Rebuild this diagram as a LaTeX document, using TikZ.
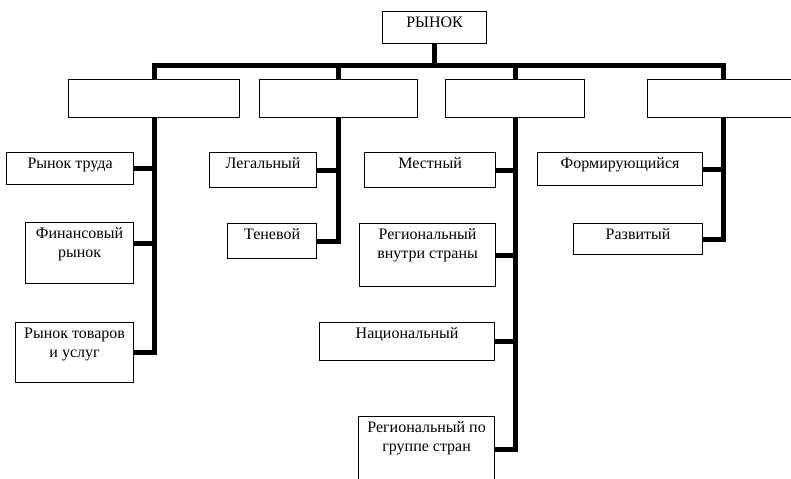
\documentclass[tikz,border=0pt]{standalone}
\usepackage{fontspec}
\setmainfont{Liberation Serif}
\newfontfamily\boxfont{Liberation Serif}
\usepackage{tikz}
\usetikzlibrary{arrows,shapes}
\newdimen\pxu
\pxu=0.75pt
% box text: width, height (px), text on top
\newcommand{\boxtext}[3]{\parbox[t][#2\pxu][t]{#1\pxu}{\centering\boxfont\rule{0pt}{12pt}#3}}

\begin{document}
\begin{tikzpicture}[x=0.75pt,y=-0.75pt,
  bx/.style={draw=black,line width=0.9pt,fill=white,anchor=north west,inner sep=0pt,
    font=\boxfont\fontsize{12}{14}\selectfont},
  conn/.style={draw=black,line width=3.6pt,line join=miter}]
%
\useasboundingbox (0,0) rectangle (791,478);
%
\node[bx] (root) at (382,11) {\boxtext{104}{32}{РЫНОК}};
%
\node[bx] (c1) at (68,79) {\boxtext{171}{38}{}};
\node[bx] (c2) at (259,79) {\boxtext{158}{38}{}};
\node[bx] (c3) at (445,79) {\boxtext{139}{38}{}};
\node[bx] (c4) at (647,79) {\boxtext{152}{38}{}};
%
\node[bx] (trud) at (6,152) {\boxtext{127}{32}{Рынок труда}};
\node[bx] (fin) at (25,222) {\boxtext{108}{61}{Финансовый\\рынок}};
\node[bx] (tov) at (15,322) {\boxtext{118}{60}{Рынок товаров\\и услуг}};
%
\node[bx] (leg) at (209,152) {\boxtext{107}{35}{Легальный}};
\node[bx] (ten) at (227,223) {\boxtext{89}{35}{Теневой}};
%
\node[bx] (mest) at (364,152) {\boxtext{131}{35}{Местный}};
\node[bx] (regv) at (359,223) {\boxtext{136}{63}{Региональный\\внутри страны}};
\node[bx] (nac) at (319,322) {\boxtext{175}{38}{Национальный}};
\node[bx] (regg) at (358,416) {\boxtext{136}{66}{Региональный по\\группе стран}};
%
\node[bx] (form) at (537,152) {\boxtext{165}{33}{Формирующийся}};
\node[bx] (razv) at (573,223) {\boxtext{129}{31}{Развитый}};
%
\foreach \c in {c1,c2,c3,c4}
  \draw[conn] (root.south) -- ++(0,21) -| (\c.north);
%
\draw[conn] (c1.south) |- (trud.east);
\draw[conn] (c1.south) |- ([yshift=7pt]fin.east);
\draw[conn] (c1.south) |- (tov.east);
\draw[conn] (c2.south) |- (leg.east);
\draw[conn] (c2.south) |- (ten.east);
\draw[conn] (c3.south) |- (mest.east);
\draw[conn] (c3.south) |- (regv.east);
\draw[conn] (c3.south) |- (nac.east);
\draw[conn] (c3.south) |- (regg.east);
\draw[conn] (c4.south) |- (form.east);
\draw[conn] (c4.south) |- (razv.east);
%
\end{tikzpicture}
\end{document}
